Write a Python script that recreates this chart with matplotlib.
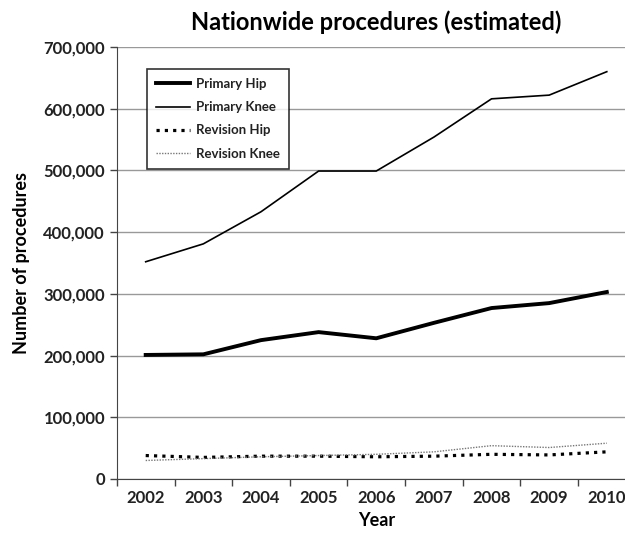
import matplotlib
matplotlib.use("Agg")
import matplotlib.pyplot as plt
from matplotlib.ticker import FuncFormatter

years = ["2002", "2003", "2004", "2005", "2006", "2007", "2008", "2009", "2010"]
primary_hip = [201000, 202000, 225000, 238000, 228000, 253000, 277000, 285000, 303000]
primary_knee = [352000, 381000, 433000, 499000, 499000, 554000, 616000, 622000, 660000]
revision_hip = [38000, 35000, 37000, 37000, 36000, 37000, 40000, 39000, 44000]
revision_knee = [30000, 33000, 36000, 38000, 40000, 44000, 54000, 51000, 58000]

plt.rcParams['font.family'] = ['Lato', 'DejaVu Sans']

fig = plt.figure(figsize=(6.25, 5.34), dpi=100)
ax = fig.add_axes([0.187, 0.103, 0.83, 0.809])

x = list(range(len(years)))
ax.plot(x, primary_hip, color='black', lw=2.8, label='Primary Hip')
ax.plot(x, primary_knee, color='black', lw=1.2, label='Primary Knee')
ax.plot(x, revision_hip, color='black', lw=2.3, linestyle=(0, (1, 1.6)), label='Revision Hip')
ax.plot(x, revision_knee, color='#777777', lw=1.0, linestyle=(0, (1, 1)), label='Revision Knee')

ax.set_xlim(-0.5, len(years) - 0.5)
ax.set_ylim(0, 700000)
ax.set_yticks(range(0, 700001, 100000))
ax.yaxis.set_major_formatter(FuncFormatter(lambda v, p: f"{int(v):,}"))
ax.set_xticks(x)
ax.set_xticklabels(years)
ax.set_xticks([i + 0.5 for i in range(-1, len(years))], minor=True)
ax.tick_params(axis='x', which='major', length=0, labelsize=12, pad=8, colors='#222222')
ax.tick_params(axis='x', which='minor', length=5, width=1, color='#444444')
ax.tick_params(axis='y', length=5, width=1, color='#444444', labelsize=12, colors='#222222')
for lab in ax.get_xticklabels() + ax.get_yticklabels():
    lab.set_fontweight('bold')
    lab.set_color('#222222')

ax.grid(axis='y', color='#999999', lw=1)
ax.set_axisbelow(True)
for s in ['top', 'right']:
    ax.spines[s].set_visible(False)
ax.spines['left'].set_color('#444444')
ax.spines['bottom'].set_color('#444444')

ax.set_title('Nationwide procedures (estimated)', fontsize=17, fontweight='bold', pad=12)
ax.set_xlabel('Year', fontsize=13, fontweight='bold', labelpad=4)
ax.set_ylabel('Number of procedures', fontsize=13, fontweight='bold', labelpad=10)

leg = ax.legend(loc='upper left', bbox_to_anchor=(0.045, 0.965), frameon=True, fancybox=False,
                edgecolor='black', prop={'size': 9.5, 'weight': 'bold'}, handlelength=2.6,
                labelspacing=0.85, borderpad=0.7, handletextpad=0.4)
leg.get_frame().set_linewidth(1.2)
for t in leg.get_texts():
    t.set_color('#222222')

fig.savefig('out.png', dpi=100)
